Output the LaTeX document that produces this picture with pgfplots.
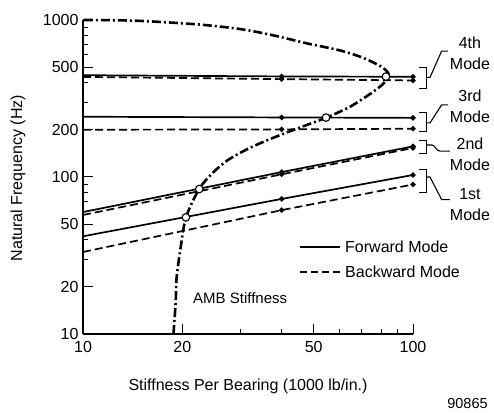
\documentclass[border=0pt]{standalone}
\usepackage{fontspec}
\setmainfont{Liberation Sans}
\usepackage{pgfplots}
\pgfplotsset{compat=1.18}
\begin{document}
\begin{tikzpicture}
\begin{axis}[
 scale only axis, width=330pt, height=314pt,
 xmode=log, ymode=log, xmin=10, xmax=100, ymin=10, ymax=1000,
 axis lines=left, axis line style={-, line width=1.5pt},
 tick align=inside, major tick length=10pt, minor tick length=5pt,
 tick style={black, line width=1pt},
 xtick={10,20,50,100}, xticklabels={10,20,50,100},
 minor xtick={30,40,60,70,80,90},
 ytick={10,20,50,100,200,500,1000}, yticklabels={10,20,50,100,200,500,1000},
 minor ytick={30,40,60,70,80,90,300,400,600,700,800,900},
 tick label style={font=\fontsize{16}{19}\selectfont},
 xticklabel style={yshift=-4pt},
 yticklabel style={xshift=-1pt},
 /pgf/number format/assume math mode=true,
 clip=false,
]
% mode lines
\addplot[black, line width=1.7pt, mark=*, mark size=1.7pt, mark indices={2,3}] coordinates {(10,41.9) (40,72.5) (100,103)};
\addplot[black, line width=1.7pt, dash pattern=on 8pt off 4pt, mark=*, mark size=1.7pt, mark indices={2,3}, mark options={solid}] coordinates {(10,33.3) (40,61.5) (100,89.6)};
\addplot[black, line width=1.7pt, mark=*, mark size=1.7pt, mark indices={2,3}] coordinates {(10,59.8) (40,107.5) (100,156.7)};
\addplot[black, line width=1.7pt, dash pattern=on 8pt off 4pt, mark=*, mark size=1.7pt, mark indices={2,3}, mark options={solid}] coordinates {(10,57.3) (40,104) (100,153)};
\addplot[black, line width=1.7pt, mark=*, mark size=1.7pt, mark indices={2,3}] coordinates {(10,242) (40,239.5) (100,238)};
\addplot[black, line width=1.7pt, dash pattern=on 8pt off 4pt, mark=*, mark size=1.7pt, mark indices={2,3}, mark options={solid}] coordinates {(10,200) (40,201) (100,203)};
\addplot[black, line width=1.7pt, mark=*, mark size=1.7pt, mark indices={2,3}] coordinates {(10,445) (40,437) (100,435)};
\addplot[black, line width=1.7pt, dash pattern=on 8pt off 4pt, mark=*, mark size=1.7pt, mark indices={2,3}, mark options={solid}] coordinates {(10,434) (40,420) (100,412)};
% AMB stiffness curve
\addplot[black, line width=2.6pt, dash pattern=on 9pt off 3pt on 2pt off 3pt, smooth] coordinates {
(18.8,10) (19.1,16.2) (19.2,22.4) (19.7,33.8) (20.5,55) (22.5,84) (24.7,106) (27.3,127) (30.6,146) (34.4,164) (41.4,192) (51,226) (54.5,238) (64.4,280) (74.1,338) (80.5,385) (83.5,420) (84.4,445) (83.5,470) (79.4,510) (70.5,575) (60.1,640) (47.7,710) (37.6,800) (30,875) (22.6,935) (16,980) (13,995) (10,1000)};
% intersections
\addplot[only marks, mark=*, mark size=3.8pt, mark options={fill=white, draw=black, line width=1.1pt}] coordinates {(20.5,55.3) (22.5,83.8) (54.5,239) (82.8,436)};
% brackets and labels
\draw[line width=1.2pt] (axis cs:104.5,498) -- (axis cs:110,498) -- (axis cs:110,365) -- (axis cs:104.5,365);
\draw[line width=1.1pt] (axis cs:110,431) -- (axis cs:112.6,431) -- (axis cs:122.1,634) -- (axis cs:127.6,634);
\node[align=center, font=\fontsize{16}{21}\selectfont, inner sep=0pt] at (axis cs:148.8,617) {4th\\Mode};
\draw[line width=1.2pt] (axis cs:104.5,258) -- (axis cs:110,258) -- (axis cs:110,194) -- (axis cs:104.5,194);
\draw[line width=1.1pt] (axis cs:110,221) -- (axis cs:112.6,221) -- (axis cs:122.1,288) -- (axis cs:127.6,288);
\node[align=center, font=\fontsize{16}{21}\selectfont, inner sep=0pt] at (axis cs:148.8,282) {3rd\\Mode};
\draw[line width=1.2pt] (axis cs:104.5,171) -- (axis cs:110,171) -- (axis cs:110,141) -- (axis cs:104.5,141);
\draw[line width=1.1pt] (axis cs:110,160) -- (axis cs:114,160) .. controls (axis cs:117,160) and (axis cs:117,146) .. (axis cs:121,146) -- (axis cs:129.4,146);
\node[align=center, font=\fontsize{16}{21}\selectfont, inner sep=0pt] at (axis cs:148.8,140) {2nd\\Mode};
\draw[line width=1.2pt] (axis cs:104.5,111) -- (axis cs:110,111) -- (axis cs:110,80) -- (axis cs:104.5,80);
\draw[line width=1.1pt] (axis cs:110,100) -- (axis cs:112.6,100) -- (axis cs:122.1,71.8) -- (axis cs:129.4,71.8);
\node[align=center, font=\fontsize{16}{21}\selectfont, inner sep=0pt] at (axis cs:148.8,66.8) {1st\\Mode};
\end{axis}
\begin{scope}[x=1pt,y=-1pt,shift={(-83pt,334pt)}]
\draw[line width=1.7pt] (300,246.7) -- (340,246.7);
\node[anchor=west, inner sep=0pt, font=\fontsize{16}{19}\selectfont] at (345,246.7) {Forward Mode};
\draw[line width=1.7pt, dash pattern=on 7pt off 4pt] (300,271.7) -- (340,271.7);
\node[anchor=west, inner sep=0pt, font=\fontsize{16}{19}\selectfont] at (345,271.7) {Backward Mode};
\node[anchor=west, inner sep=0pt, font=\fontsize{15}{18}\selectfont] at (193,298) {AMB Stiffness};
\node[rotate=90, inner sep=0pt, font=\fontsize{16}{19}\selectfont] at (18,178) {Natural Frequency (Hz)};
\node[inner sep=0pt, font=\fontsize{16}{19}\selectfont] at (248,386) {Stiffness Per Bearing (1000 lb/in.)};
\node[inner sep=0pt, font=\fontsize{14.5}{17}\selectfont] at (467.5,404) {90865};
\end{scope}
\pgfresetboundingbox
\path[use as bounding box] (-83pt,-78pt) rectangle (411pt,334pt);
\end{tikzpicture}
\end{document}
